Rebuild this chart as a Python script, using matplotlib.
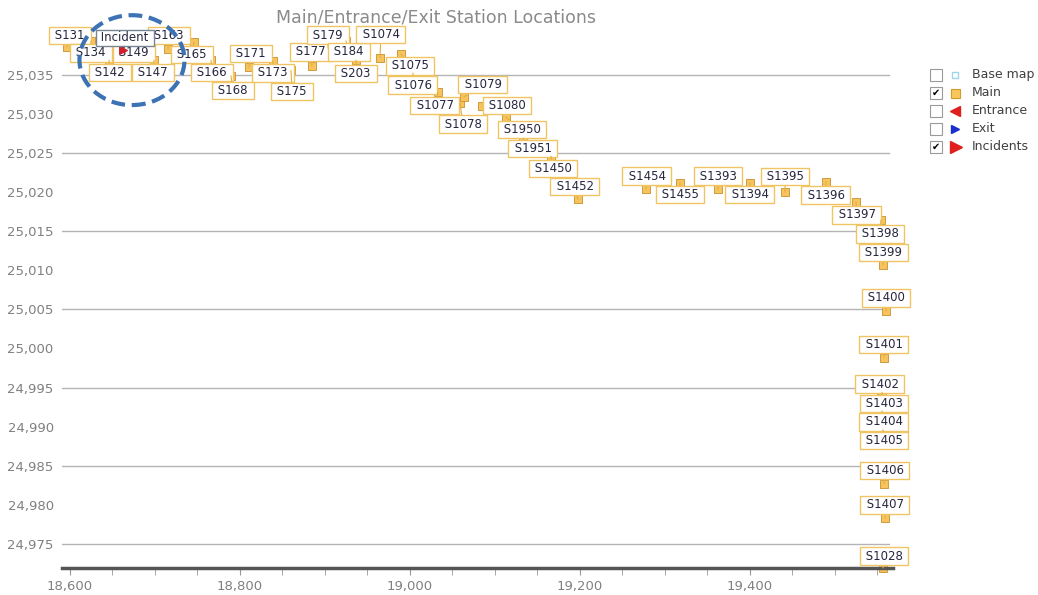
import matplotlib
matplotlib.use('Agg')
import matplotlib.pyplot as plt
from matplotlib.patches import Ellipse, Rectangle
from matplotlib.ticker import FuncFormatter, MultipleLocator, FixedLocator

## station data (easting / northing)
stations = ['S131', 'S134', 'S149', 'S142', 'S147', 'S163', 'S165', 'S166', 'S168',
            'S171', 'S173', 'S175', 'S177', 'S179', 'S184', 'S203', 'S1074', 'S1075',
            'S1076', 'S1077', 'S1078', 'S1079', 'S1080', 'S1950', 'S1951', 'S1450',
            'S1452', 'S1454', 'S1455', 'S1393', 'S1394', 'S1395', 'S1396', 'S1397',
            'S1398', 'S1399', 'S1400', 'S1401', 'S1402', 'S1403', 'S1404', 'S1405',
            'S1406', 'S1407', 'S1028']
east = [18596.5, 18624.7, 18675.3, 18645.9, 18698.8, 18715.3, 18745.9, 18765.9, 18789.4,
        18810.6, 18838.8, 18860.0, 18884.7, 18903.5, 18924.7, 18936.5, 18964.7, 18989.4,
        19003.5, 19032.9, 19058.8, 19063.5, 19084.7, 19112.9, 19132.9, 19165.9,
        19197.6, 19277.6, 19317.6, 19362.4, 19400.0, 19441.2, 19489.4, 19524.7,
        19554.1, 19556.5, 19560.0, 19557.6, 19554.1, 19555.3, 19555.3, 19556.5,
        19557.6, 19558.8, 19556.5]
north = [25038.6, 25039.35, 25039.35, 25036.9, 25036.9, 25038.3, 25039.2, 25036.9, 25034.9,
         25036.0, 25036.8, 25035.6, 25036.15, 25038.45, 25039.35, 25036.9, 25037.2, 25037.7,
         25035.25, 25032.8, 25031.4, 25032.2, 25031.0, 25029.6, 25026.9, 25024.6,
         25019.1, 25020.4, 25021.2, 25020.4, 25021.2, 25020.0, 25021.3, 25018.75,
         25016.45, 25010.7, 25004.8, 24998.8, 24993.9, 24994.4, 24992.0, 24989.6,
         24982.7, 24978.3, 24971.9]
incident_east = [18662.4]
incident_north = [25038.2]

legend_items = ['Base map', 'Main', 'Entrance', 'Exit', 'Incidents']
legend_checked = [False, True, False, False, True]

# callout offsets in pixels (box centre relative to point, image y down)
label_off = [(3, -11.5), (0, 12), (0, 12), (1, 12.5), (-1, 12.5), (1, -13.5), (-2, 12.5),
             (1, 12.5), (2, 14.5), (2, -13.5), (0, 12), (1, 21), (-1, -14), (0, -13),
             (3, 11), (0, 13), (1, -23), (9, 12), (0, 12), (-3, 13), (3, 21), (19, -12),
             (25, -1), (16, 12), (10, 10), (2, 12), (-3, -13), (1, -13), (0, 12), (0, -13),
             (0, 12), (0, -16), (0, 13), (1, 13), (-1, 14), (0, -12), (0, -13), (0, -13),
             (-1, -12), (2, 11), (2, 11), (1, 11), (1, -13), (0, -13), (1, -12)]

W, H = 1038, 595
fig = plt.figure(figsize=(W / 100, H / 100), dpi=100)
ax = fig.add_axes([62 / W, 1 - 568 / H, (893 - 62) / W, (568 - 32) / H])

ax.set_xlim(18590.6, 18590.6 + 831 / 0.85)
ax.set_ylim(24971.9, 25040.5)

# grid only every 10 units
for g in range(24975, 25040, 10):
    ax.axhline(g, xmax=0.995, color='#b4b4b4', lw=1, zorder=0)

for s in ['top', 'right', 'left']:
    ax.spines[s].set_visible(False)
ax.spines['bottom'].set_color('#555555')
ax.spines['bottom'].set_linewidth(2.5)

ax.xaxis.set_major_locator(MultipleLocator(200))
ax.xaxis.set_minor_locator(MultipleLocator(50))
ax.yaxis.set_major_locator(FixedLocator(list(range(24975, 25040, 5))))
fmt = FuncFormatter(lambda v, p: f'{v:,.0f}')
ax.xaxis.set_major_formatter(fmt)
ax.yaxis.set_major_formatter(fmt)
ax.tick_params(axis='x', which='both', colors='#999999', labelcolor='#808080',
               labelsize=9.5, length=5, direction='out')
ax.tick_params(axis='y', length=0, labelcolor='#808080', labelsize=9.5, pad=6)

ax.scatter(east, north, marker='s', s=32, c='#f7c35c', edgecolors='#c89030',
           linewidths=0.6, zorder=2, clip_on=False)

for i, (name, x, y) in enumerate(zip(stations, east, north)):
    dx, dy = label_off[i]
    ax.annotate(' ' + name + ' ', (x, y), xytext=(dx, -dy), textcoords='offset pixels',
                ha='center', va='center', fontsize=8.5, color='#262640',
                bbox=dict(boxstyle='square,pad=0.18', fc='white', ec='#f0c462', lw=1),
                arrowprops=dict(arrowstyle='-', color='#e0b040', lw=0.8,
                                shrinkA=0, shrinkB=0),
                zorder=3 + i * 0.01, annotation_clip=False)

# incident marker and tooltip
ax.scatter(incident_east, incident_north, marker='>', s=30, c='#d0202a', zorder=5, clip_on=False)
ax.annotate(' Incident ', (incident_east[0], incident_north[0]), xytext=(2, 12),
            textcoords='offset pixels', ha='center', va='center', fontsize=8.5,
            color='#262640', zorder=6, annotation_clip=False,
            bbox=dict(boxstyle='square,pad=0.15', fc='white', ec='#7a8594', lw=1))

ell = Ellipse((18672.9, 25036.9), width=123.5, height=11.5, fill=False,
              ec='#3d72b4', lw=3, ls=(0, (3.3, 1.6)), zorder=7, clip_on=False)
ax.add_patch(ell)

fig.text(436 / W, 1 - 17 / H, 'Main/Entrance/Exit Station Locations', ha='center',
         va='center', fontsize=12.5, color='#8a8a8a')

# legend drawn in pixel coordinates
lax = fig.add_axes([920 / W, 1 - 160 / H, 118 / W, 100 / H])
lax.set_xlim(920, 1038)
lax.set_ylim(160, 60)
lax.axis('off')
rows = [75, 93, 111, 129, 147]
for k, (lab, chk, ry) in enumerate(zip(legend_items, legend_checked, rows)):
    lax.add_patch(Rectangle((930, ry - 6), 12, 12, fc='white', ec='#9a9a9a', lw=0.8))
    if chk:
        lax.text(936, ry, '\u2714', ha='center', va='center', fontsize=7, color='black')
    lax.text(972, ry, lab, ha='left', va='center', fontsize=9, color='#404040')
lax.add_patch(Rectangle((952, 72), 6, 6, fc='white', ec='#9fd4ee', lw=1))
lax.add_patch(Rectangle((950.5, 89), 9, 9, fc='#f9c75a', ec='#d49a30', lw=0.8))
lax.plot([955], [111], marker='<', ms=7, color='#e0201e', ls='none')
lax.plot([955], [129], marker='>', ms=6, color='#1a2ed0', ls='none')
lax.plot([956], [147], marker='>', ms=9, color='#e0201e', ls='none')

fig.savefig('out.png', dpi=100)
